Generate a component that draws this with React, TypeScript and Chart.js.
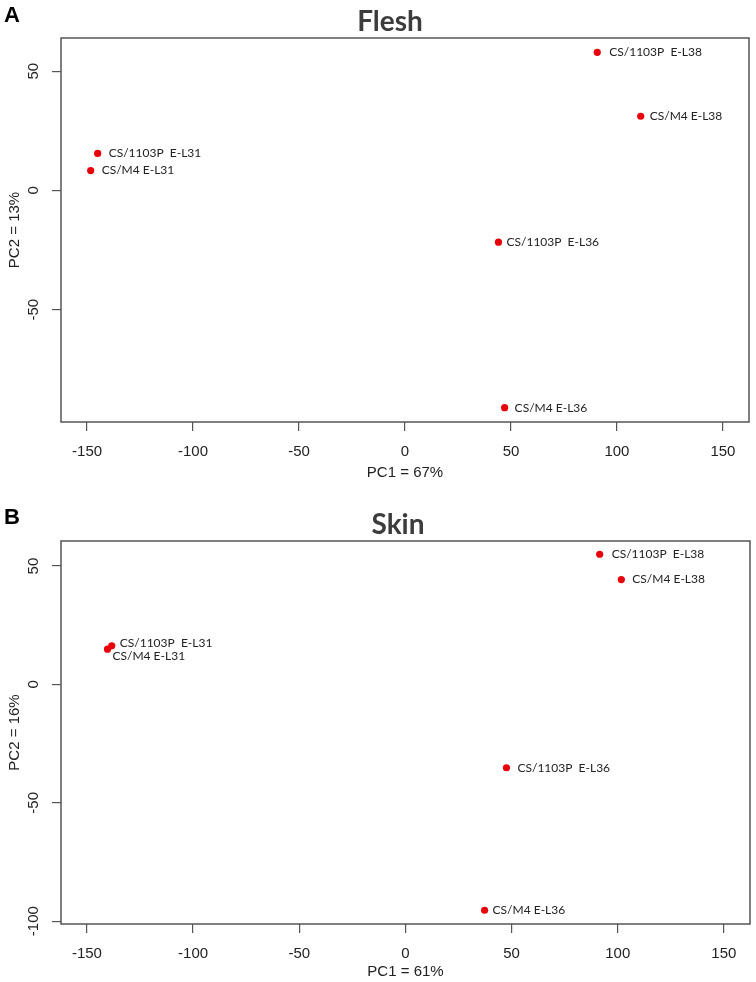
import React, { useEffect, useRef } from "react";
import { Chart, registerables } from "chart.js";

Chart.register(...registerables);

// ---- data ----
const sampleLabels = [
  "CS/1103P  E-L31",
  "CS/M4 E-L31",
  "CS/1103P  E-L38",
  "CS/M4 E-L38",
  "CS/1103P  E-L36",
  "CS/M4 E-L36",
];
const fleshPC1 = [-145, -148.3, 90.7, 111.2, 44.1, 47.0];
const fleshPC2 = [15.5, 8.3, 57.9, 31.1, -21.7, -91.1];
const skinPC1 = [-138.3, -140.3, 91.5, 101.7, 47.6, 37.3];
const skinPC2 = [16.3, 14.9, 55.0, 44.3, -35.2, -95.4];
const xTickValues = [-150, -100, -50, 0, 50, 100, 150];
const fleshYTickValues = [-50, 0, 50];
const skinYTickValues = [-100, -50, 0, 50];
const fleshTitle = "Flesh";
const skinTitle = "Skin";
const fleshXTitle = "PC1 = 67%";
const fleshYTitle = "PC2 = 13%";
const skinXTitle = "PC1 = 61%";
const skinYTitle = "PC2 = 16%";

// ---- presentation (label nudges, layout) ----
const fleshLabelNudge = [[11, 0], [11, 0], [12, 0], [9, 0], [8, 0], [10, 0]];
const skinLabelNudge = [[8, -3], [5, 7], [12, 0], [11, 0], [11, 0], [8, 0]];

type Panel = {
  letter: string;
  title: string;
  pc1: number[];
  pc2: number[];
  xTitle: string;
  yTitle: string;
  yTicks: number[];
  xMin: number; xMax: number; yMin: number; yMax: number;
  padTop: number; padBottom: number; padRight: number;
  xHeight: number; yTickPad: number;
  titleX: number; titleY: number; letterY: number;
  nudge: number[][];
};

const panels: Panel[] = [
  {
    letter: "A", title: fleshTitle, pc1: fleshPC1, pc2: fleshPC2,
    xTitle: fleshXTitle, yTitle: fleshYTitle, yTicks: fleshYTickValues,
    xMin: -162.3, xMax: 162.3, yMin: -97.1, yMax: 63.9,
    padTop: 38, padBottom: 9, padRight: 7, xHeight: 60, yTickPad: 7,
    titleX: 390, titleY: 22, letterY: 16, nudge: fleshLabelNudge,
  },
  {
    letter: "B", title: skinTitle, pc1: skinPC1, pc2: skinPC2,
    xTitle: skinXTitle, yTitle: skinYTitle, yTicks: skinYTickValues,
    xMin: -162.2, xMax: 162.3, yMin: -101.2, yMax: 60.6,
    padTop: 50, padBottom: 1, padRight: 6, xHeight: 57, yTickPad: 3,
    titleX: 398, titleY: 34, letterY: 27, nudge: skinLabelNudge,
  },
];

const AXIS_COLOR = "#555555";
const TEXT_COLOR = "#222222";
const TICK_FONT = { family: "'Liberation Sans', Arial, sans-serif", size: 15 };

function PanelChart({ p }: { p: Panel }) {
  const ref = useRef<HTMLCanvasElement | null>(null);
  useEffect(() => {
    if (!ref.current) return;
    const decor = {
      id: "decor",
      beforeDatasetsDraw(chart: any) {
        const { ctx, chartArea } = chart;
        ctx.save();
        ctx.strokeStyle = AXIS_COLOR;
        ctx.lineWidth = 1.5;
        ctx.strokeRect(chartArea.left, chartArea.top, chartArea.right - chartArea.left, chartArea.bottom - chartArea.top);
        ctx.restore();
      },
      afterDatasetsDraw(chart: any) {
        const { ctx } = chart;
        const meta = chart.getDatasetMeta(0);
        ctx.save();
        ctx.font = "12px Lato, 'Open Sans', sans-serif";
        ctx.fillStyle = TEXT_COLOR;
        ctx.textAlign = "left";
        ctx.textBaseline = "middle";
        meta.data.forEach((el: any, i: number) => {
          const [dx, dy] = p.nudge[i];
          ctx.fillText(sampleLabels[i], el.x + dx, el.y + dy);
        });
        ctx.restore();
      },
      afterDraw(chart: any) {
        const { ctx } = chart;
        ctx.save();
        ctx.fillStyle = "#000";
        ctx.font = "bold 22px 'Liberation Sans', Arial, sans-serif";
        ctx.textAlign = "left";
        ctx.textBaseline = "middle";
        ctx.fillText(p.letter, 4, p.letterY);
        ctx.fillStyle = "#3c3c3c";
        ctx.font = "bold 28px Lato, sans-serif";
        ctx.textAlign = "center";
        ctx.fillText(p.title, p.titleX, p.titleY);
        ctx.restore();
      },
    };
    const chart = new Chart(ref.current, {
      type: "scatter",
      data: {
        datasets: [
          {
            data: p.pc1.map((x, i) => ({ x, y: p.pc2[i] })),
            backgroundColor: "#e8000b",
            borderWidth: 0,
            pointRadius: 3.6,
            pointHoverRadius: 3.6,
          },
        ],
      },
      options: {
        responsive: false,
        animation: false,
        events: [],
        layout: { padding: { left: 0, right: p.padRight, top: p.padTop, bottom: p.padBottom } },
        plugins: { legend: { display: false }, tooltip: { enabled: false }, title: { display: false } },
        scales: {
          x: {
            type: "linear",
            min: p.xMin,
            max: p.xMax,
            afterBuildTicks: (s: any) => { s.ticks = xTickValues.map((v) => ({ value: v })); },
            afterFit: (s: any) => { s.height = p.xHeight; },
            border: { display: false },
            grid: { drawOnChartArea: false, drawTicks: true, tickLength: 9, color: AXIS_COLOR, lineWidth: 1.2 },
            ticks: { font: TICK_FONT, color: TEXT_COLOR, padding: 12, maxRotation: 0, minRotation: 0 },
            title: { display: true, text: p.xTitle, font: TICK_FONT, color: TEXT_COLOR, padding: { top: 0, bottom: 0 } },
          },
          y: {
            type: "linear",
            min: p.yMin,
            max: p.yMax,
            afterBuildTicks: (s: any) => { s.ticks = p.yTicks.map((v) => ({ value: v })); },
            afterFit: (s: any) => { s.width = 61; },
            border: { display: false },
            grid: { drawOnChartArea: false, drawTicks: true, tickLength: 9, color: AXIS_COLOR, lineWidth: 1.2 },
            ticks: { font: TICK_FONT, color: TEXT_COLOR, padding: p.yTickPad, minRotation: 90, maxRotation: 90, crossAlign: "center" },
            title: { display: true, text: p.yTitle, font: TICK_FONT, color: TEXT_COLOR, padding: { top: 6, bottom: 0 } },
          },
        },
      },
      plugins: [decor],
    } as any);
    return () => chart.destroy();
  }, [p]);
  return <canvas ref={ref} width={756} height={491} style={{ display: "block" }} />;
}

export default function App() {
  return (
    <div style={{ position: "absolute", left: 0, top: 0, width: 756, height: 982, background: "#fff" }}>
      {panels.map((p) => (
        <PanelChart key={p.letter} p={p} />
      ))}
    </div>
  );
}
